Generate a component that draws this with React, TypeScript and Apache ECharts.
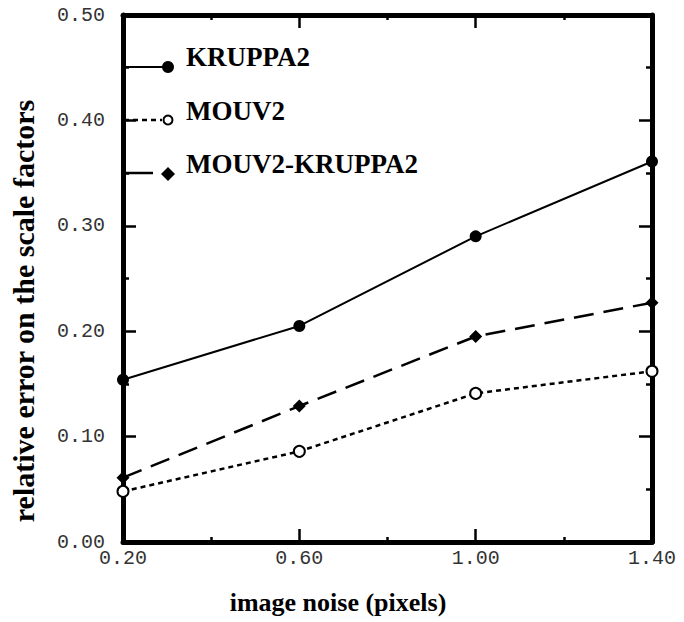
import React, { useEffect, useRef } from "react";
import * as echarts from "echarts";

const noise = [0.2, 0.6, 1.0, 1.4];
const kruppa2 = [0.154, 0.205, 0.29, 0.361];
const mouv2 = [0.048, 0.086, 0.141, 0.162];
const mouvKruppa = [0.061, 0.129, 0.195, 0.227];
const seriesNames = ["KRUPPA2", "MOUV2", "MOUV2-KRUPPA2"];
const xTitle = "image noise (pixels)";
const yTitle = "relative error on the scale factors";

const pairs = (ys: number[]) => noise.map((x, i) => [x, ys[i]]);

const mkLine = () => ({ show: true, onZero: false, lineStyle: { color: "#000", width: 5, type: "solid" } });
const mkTick = () => ({ show: true, inside: true, length: 13, lineStyle: { color: "#000", width: 2.5 } });
const mkMinor = (len: number) => ({ show: true, splitNumber: 2, length: len, lineStyle: { color: "#000", width: 2.5 } });

export default function App() {
  const ref = useRef<HTMLDivElement>(null);
  useEffect(() => {
    if (!ref.current) return;
    const chart = echarts.init(ref.current, null, { renderer: "svg" });
    const gl = 123, gt = 15, gr = 32, gb = 80;
    const lx0 = 124, mx = 168, tx = 186;
    const legendText = (text: string, y: number) => ({
      type: "text", x: tx, y, z: 10,
      style: { text, fontFamily: "Liberation Serif", fontWeight: "bold", fontSize: 27, fill: "#000", verticalAlign: "middle" },
    });
    const labelFmt = (v: number) => v.toFixed(2);
    chart.setOption({
      animation: false,
      grid: { left: gl, top: gt, right: gr, bottom: gb, containLabel: false },
      xAxis: [
        {
          type: "value", min: 0.2, max: 1.4, interval: 0.4, position: "bottom",
          axisLine: mkLine(), axisTick: mkTick(), minorTick: mkMinor(5), splitLine: { show: false },
          axisLabel: { fontFamily: "Liberation Mono", fontSize: 20, color: "#333", margin: 6, formatter: labelFmt },
        },
        {
          type: "value", min: 0.2, max: 1.4, interval: 0.4, position: "top",
          axisLine: mkLine(), axisTick: mkTick(), minorTick: mkMinor(5), splitLine: { show: false },
          axisLabel: { show: false },
        },
      ],
      yAxis: [
        {
          type: "value", min: 0, max: 0.5, interval: 0.1, position: "left",
          axisLine: mkLine(), axisTick: mkTick(), minorTick: mkMinor(6), splitLine: { show: false },
          axisLabel: { fontFamily: "Liberation Mono", fontSize: 20, color: "#333", margin: 18, formatter: labelFmt },
        },
        {
          type: "value", min: 0, max: 0.5, interval: 0.1, position: "right",
          axisLine: mkLine(), axisTick: mkTick(), minorTick: mkMinor(6), splitLine: { show: false },
          axisLabel: { show: false },
        },
      ],
      series: [
        {
          name: seriesNames[0], type: "line", data: pairs(kruppa2),
          symbol: "circle", symbolSize: 12,
          lineStyle: { color: "#000", width: 2 },
          itemStyle: { color: "#000", borderColor: "#000", borderWidth: 0 },
          z: 5,
        },
        {
          name: seriesNames[1], type: "line", data: pairs(mouv2),
          symbol: "circle", symbolSize: 11,
          lineStyle: { color: "#000", width: 2.5, type: [5, 4] },
          itemStyle: { color: "#fff", borderColor: "#000", borderWidth: 2 },
          z: 5,
        },
        {
          name: seriesNames[2], type: "line", data: pairs(mouvKruppa),
          symbol: "diamond", symbolSize: 13,
          lineStyle: { color: "#000", width: 2.5, type: [20, 10] },
          itemStyle: { color: "#000", borderWidth: 0 },
          z: 5,
        },
      ],
      graphic: [
        { type: "line", shape: { x1: lx0, y1: 67, x2: mx, y2: 67 }, style: { stroke: "#000", lineWidth: 2 }, z: 10 },
        { type: "circle", shape: { cx: mx, cy: 67, r: 6 }, style: { fill: "#000" }, z: 10 },
        legendText(seriesNames[0], 57),

        { type: "line", shape: { x1: lx0, y1: 120, x2: 162, y2: 120 }, style: { stroke: "#000", lineWidth: 2.5, lineDash: [5, 4] }, z: 10 },
        { type: "circle", shape: { cx: mx, cy: 120, r: 4.5 }, style: { fill: "#fff", stroke: "#000", lineWidth: 2 }, z: 10 },
        legendText(seriesNames[1], 111),

        { type: "line", shape: { x1: lx0, y1: 173, x2: 153, y2: 173 }, style: { stroke: "#000", lineWidth: 2.5 }, z: 10 },
        { type: "polygon", shape: { points: [[mx, 167], [mx + 7, 174], [mx, 181], [mx - 7, 174]] }, style: { fill: "#000" }, z: 10 },
        legendText(seriesNames[2], 164),

        {
          type: "text", x: 338, y: 602,
          style: { text: xTitle, fontFamily: "Liberation Serif", fontWeight: "bold", fontSize: 26, fill: "#000", align: "center", verticalAlign: "middle" },
        },
        {
          type: "text", x: 23, y: 311, rotation: Math.PI / 2,
          style: { text: yTitle, fontFamily: "Liberation Serif", fontWeight: "bold", fontSize: 30, fill: "#000", align: "center", verticalAlign: "middle" },
        },
      ],
    });
    return () => chart.dispose();
  }, []);
  return <div ref={ref} style={{ width: 684, height: 622, position: "absolute", left: 0, top: 0 }} />;
}
